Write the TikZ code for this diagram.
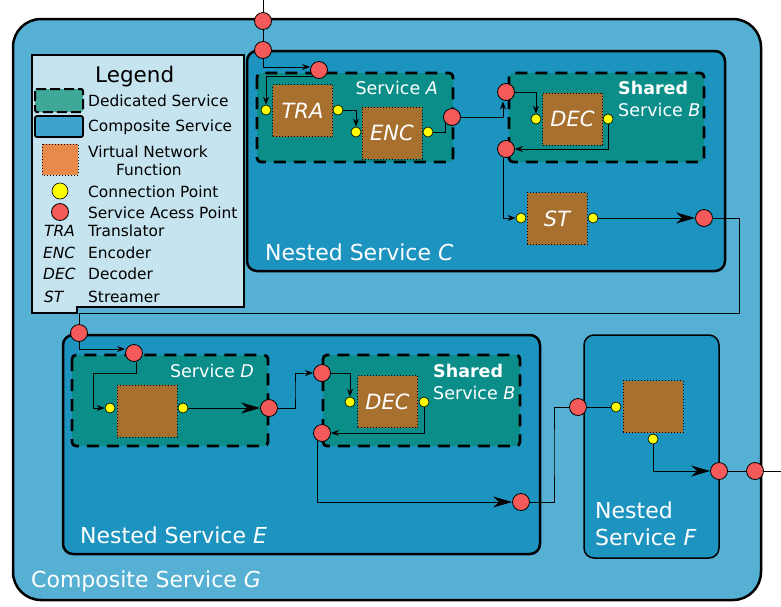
\documentclass[tikz,border=0pt]{standalone}
\usepackage{fontspec}
\setmainfont{DejaVu Sans}
\usetikzlibrary{arrows.meta,calc}
\definecolor{gblue}{HTML}{56B0D4}
\definecolor{cblue}{HTML}{1D94C0}
\definecolor{dteal}{HTML}{0B8E8A}
\definecolor{vbrown}{HTML}{A8702F}
\definecolor{legbg}{HTML}{C6E4EF}
\definecolor{sapred}{HTML}{F45A5A}
\definecolor{cpyel}{HTML}{FFFF00}
\definecolor{legteal}{HTML}{40A898}
\definecolor{legblue}{HTML}{3EA3CC}
\definecolor{legorange}{HTML}{E88A4A}
\newcommand\fsz[1]{\fontsize{#1}{#1}\selectfont}
\pgfdeclarelayer{bg}
\pgfdeclarelayer{lines}
\pgfsetlayers{bg,lines,main}
\begin{document}
\begin{tikzpicture}[x=1pt,y=-1pt,
  sap/.style={circle, draw=black, line width=0.8pt, fill=sapred, minimum size=17pt, inner sep=0pt},
  cp/.style={circle, draw=black, line width=0.6pt, fill=cpyel, minimum size=10pt, inner sep=0pt},
  vnf/.style={draw=black, dotted, line width=1pt, fill=vbrown, minimum width=60pt, minimum height=52pt, inner sep=0pt, font=\itshape\fsz{21}, text=white},
  dedicated/.style={draw=black, dash pattern=on 12pt off 8pt, line width=2.8pt, fill=dteal, rounded corners=4pt},
  composite/.style={draw=black, line width=2.5pt, fill=cblue, rounded corners=10pt},
  conn/.style={draw=black, line width=1pt},
  sarr/.style={-{Stealth[length=8pt,width=6pt,inset=2.5pt]}},
  barr/.style={-{Stealth[length=19pt,width=11pt,inset=6pt]}},
  big/.style={text=white, font=\fsz{22}, inner sep=0pt, anchor=base west},
  mid/.style={text=white, font=\fsz{17.5}, inner sep=0pt, anchor=base west},
  leg/.style={text=black, font=\fsz{15.4}, inner sep=0pt, anchor=base west}
]
\useasboundingbox (0,0) rectangle (781,606);

% ---------------- containers ----------------
\begin{pgfonlayer}{bg}
\draw[line width=2.5pt, fill=gblue, rounded corners=28pt] (13,19) rectangle (761,600);
\draw[line width=2pt, fill=legbg] (32,55) -- (244,55) -- (244,307) -- (77,307) -- (77,313) -- (32,313) -- cycle;
\draw[composite] (247,51) rectangle (725,271);
\draw[composite] (63,335) rectangle (540,554);
\draw[composite, line width=1.5pt] (584,335) rectangle (719,558);
\draw[dedicated] (257,73) rectangle (453,162);
\draw[dedicated] (509,73) rectangle (704,162);
\draw[dedicated] (72,355) rectangle (268,446);
\draw[dedicated] (323,355) rectangle (520,446);
% legend samples
\draw[draw=black, dash pattern=on 10pt off 4pt, line width=2pt, fill=legteal, rounded corners=2pt] (35,89) rectangle (83,112);
\draw[draw=black, line width=1.8pt, fill=legblue, rounded corners=2pt] (35,116) rectangle (83,137);
\draw[draw=black, dotted, line width=1pt, fill=legorange] (42,144) rectangle (78,175);
\end{pgfonlayer}

% ---------------- labels ----------------
\node[leg, font=\fsz{21.5}] (legT) at (95,82) {Legend};
\node[leg] (l1) at (88,106) {Dedicated Service};
\node[leg] (l2) at (88,131) {Composite Service};
\node[leg] (l3) at (88,157) {Virtual Network};
\node[leg] (l3b) at (116,175) {Function};
\node[cp, minimum size=16pt] (lcp) at (60,191) {};
\node[leg] (l4) at (88,197) {Connection Point};
\node[sap] (lsap) at (60,212) {};
\node[leg] (l5) at (88,218) {Service Acess Point};
\node[leg, font=\itshape\fsz{15.4}] (k1) at (44,236) {TRA};
\node[leg] (l6) at (88,236) {Translator};
\node[leg, font=\itshape\fsz{15.4}] (k2) at (43,258) {ENC};
\node[leg] (l7) at (88,258) {Encoder};
\node[leg, font=\itshape\fsz{15.4}] (k3) at (43,279) {DEC};
\node[leg] (l8) at (88,279) {Decoder};
\node[leg, font=\itshape\fsz{15.4}] (k4) at (44,302) {ST};
\node[leg] (l9) at (88,302) {Streamer};

\node[big] (tC) at (265,260) {Nested Service \textit{C}};
\node[big] (tE) at (80,543) {Nested Service \textit{E}};
\node[big] (tG) at (31,587) {Composite Service \textit{G}};
\node[big] (tF1) at (595,518) {Nested};
\node[big] (tF2) at (595,545) {Service \textit{F}};
\node[mid, anchor=base east] (tA) at (438,94) {Service \textit{A}};
\node[mid, font=\bfseries\fsz{17.5}] (tB1) at (618,94) {Shared};
\node[mid] (tB2) at (618,116) {Service \textit{B}};
\node[mid, anchor=base east] (tD) at (254,377) {Service \textit{D}};
\node[mid, font=\bfseries\fsz{17.5}] (tB3) at (433,377) {Shared};
\node[mid] (tB4) at (433,399) {Service \textit{B}};

% ---------------- VNFs ----------------
\node[vnf] (tra) at (302.5,110.5) {TRA};
\node[vnf] (enc) at (392,133) {ENC};
\node[vnf] (dec) at (572.5,119) {DEC};
\node[vnf] (st) at (557,218.5) {ST};
\node[vnf] (vd) at (147,411) {};
\node[vnf] (dec2) at (387.5,401.5) {DEC};
\node[vnf] (vf) at (653,406.5) {};

% ---------------- connection points ----------------
\node[cp] (cpTRAin) at (266,110) {};
\node[cp] (cpTRAout) at (338,110) {};
\node[cp] (cpENCin) at (356,132) {};
\node[cp] (cpENCout) at (428,132) {};
\node[cp] (cpDECin) at (536,119) {};
\node[cp] (cpDECout) at (608,119) {};
\node[cp] (cpSTin) at (521,218) {};
\node[cp] (cpSTout) at (593,218) {};
\node[cp] (cpDin) at (110,408) {};
\node[cp] (cpDout) at (183,408) {};
\node[cp] (cpDECbin) at (350,402) {};
\node[cp] (cpDECbout) at (424,402) {};
\node[cp] (cpFin) at (616,407) {};
\node[cp] (cpFout) at (653,439) {};

% ---------------- service access points ----------------
\node[sap] (sapG1) at (263,21) {};
\node[sap] (sapC1) at (263,50) {};
\node[sap] (sapA) at (319,70) {};
\node[sap] (sapAout) at (452,117) {};
\node[sap] (sapB1) at (506,92) {};
\node[sap] (sapB2) at (506,149) {};
\node[sap] (sapCout) at (704,218) {};
\node[sap] (sapE1) at (79,333) {};
\node[sap] (sapD1) at (134,353) {};
\node[sap] (sapDout) at (269,408) {};
\node[sap] (sapB3) at (322,373) {};
\node[sap] (sapB4) at (322,433) {};
\node[sap] (sapE2) at (521,502) {};
\node[sap] (sapF1) at (578,407) {};
\node[sap] (sapF2) at (719,471) {};
\node[sap] (sapG2) at (755,471) {};

\coordinate (top) at (263,0);
\coordinate (r1) at (739,313);
\coordinate (d1) at (93,373);
\coordinate (d2) at (295,390);
\coordinate (e1) at (554,450);
\coordinate (out) at (781,471);

% ---------------- connectors ----------------
\begin{pgfonlayer}{lines}
\draw[conn] (top) -- (sapG1) -- (sapC1);
\draw[conn,sarr] (sapC1) |- ($(sapA.west)+(0,-3)$);
\draw[conn,sarr] ($(sapA)+(-6,6)$) -| (cpTRAin);
\draw[conn,sarr] (cpTRAout) -| (cpENCin);
\draw[conn] (cpENCout) -| (sapAout.south west);
\draw[conn,sarr] (sapAout) -| ($(sapB1.south)+(-3,0.5)$);
\draw[conn,sarr] (sapB1) -| (cpDECin);
\draw[conn,sarr] (cpDECout) |- (sapB2);
\draw[conn,sarr] ($(sapB2.south)+(-3,0)$) |- (cpSTin);
\draw[conn,barr] (cpSTout) -- (sapCout);
\draw[conn] (sapCout) -| (r1) -| (sapE1);
\draw[conn,sarr] (sapE1) |- ($(sapD1.west)+(0,-4)$);
\draw[conn,sarr] ($(sapD1.south)+(2,0)$) |- (d1) |- (cpDin);
\draw[conn,barr] (cpDout) -- (sapDout);
\draw[conn,sarr] (sapDout) -| (d2) |- (sapB3);
\draw[conn,sarr] (sapB3) -| (cpDECbin);
\draw[conn,sarr] (cpDECbout) |- (sapB4);
\draw[conn,barr] ($(sapB4.south)+(-5,-1.5)$) |- (sapE2);
\draw[conn] (sapE2) -| (e1) |- (sapF1);
\draw[conn] (sapF1) -- (cpFin);
\draw[conn,barr] (cpFout) |- (sapF2);
\draw[conn] (sapF2) -- (sapG2) -- (out);
\end{pgfonlayer}
\end{tikzpicture}
\end{document}
